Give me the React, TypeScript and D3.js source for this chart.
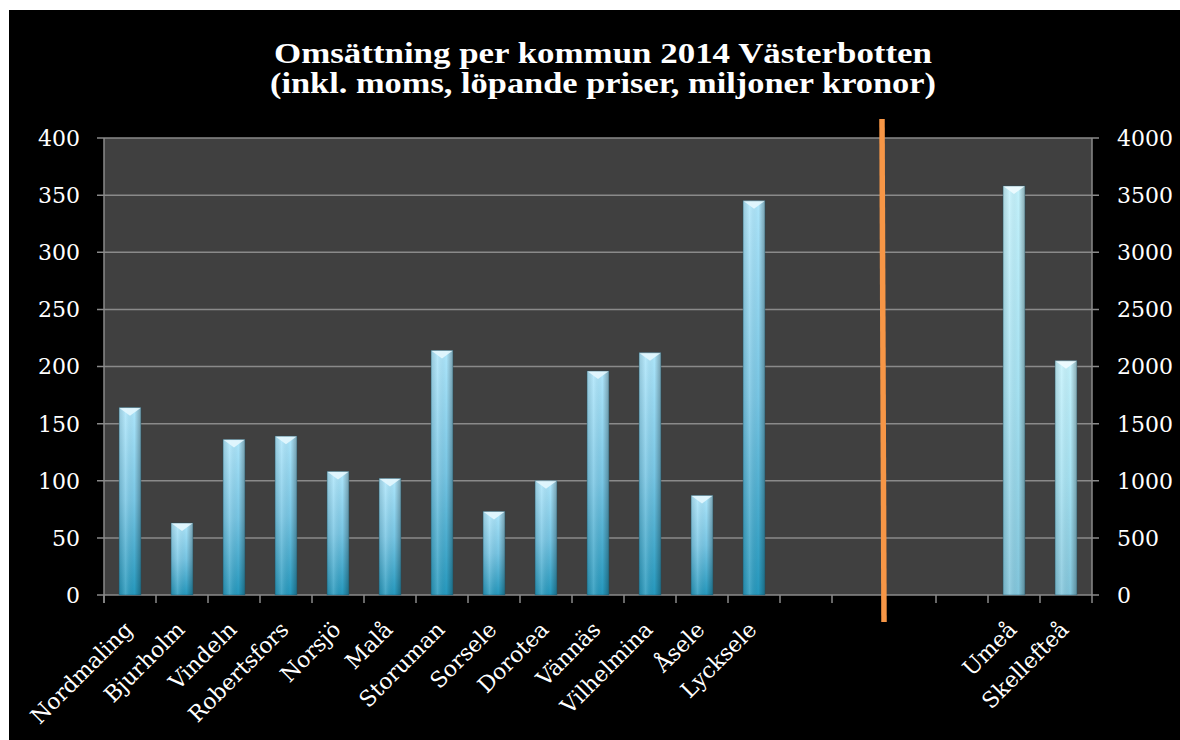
import React from 'react';
import * as d3 from 'd3';

const titleLines = [
  'Omsättning per kommun 2014 Västerbotten',
  '(inkl. moms, löpande priser, miljoner kronor)',
];
const titleWidths = [658, 666];

// 19 slots on the x axis, empty strings are the gap around the divider
const categories = [
  'Nordmaling', 'Bjurholm', 'Vindeln', 'Robertsfors', 'Norsjö', 'Malå',
  'Storuman', 'Sorsele', 'Dorotea', 'Vännäs', 'Vilhelmina', 'Åsele',
  'Lycksele', '', '', '', '', 'Umeå', 'Skellefteå',
];

const smallNames = [
  'Nordmaling', 'Bjurholm', 'Vindeln', 'Robertsfors', 'Norsjö', 'Malå',
  'Storuman', 'Sorsele', 'Dorotea', 'Vännäs', 'Vilhelmina', 'Åsele', 'Lycksele',
];
const smallValues = [164, 63, 136, 139, 108, 102, 214, 73, 100, 196, 212, 87, 345];

const bigNames = ['Umeå', 'Skellefteå'];
const bigValues = [3580, 2050];

const leftTicks = [0, 50, 100, 150, 200, 250, 300, 350, 400];
const rightTicks = [0, 500, 1000, 1500, 2000, 2500, 3000, 3500, 4000];

// divider drawn between the two groups (slot boundary index)
const dividerSlot = 15;

const W = 1180;
const H = 740;
const margin = { left: 104, right: 1092, top: 138, bottom: 595 };

const font = '"DejaVu Serif", "Liberation Serif", serif';

export default function App() {
  const keys = categories.map((c, i) => `${i}:${c}`);
  const x = d3.scaleBand<string>().domain(keys).range([margin.left, margin.right]).padding(0);
  const yL = d3.scaleLinear().domain([0, 400]).range([margin.bottom, margin.top]);
  const yR = d3.scaleLinear().domain([0, 4000]).range([margin.bottom, margin.top]);
  const step = x.step();
  const barW = step * 0.42;
  const keyOf = (name: string) => keys[categories.indexOf(name)];

  const bar = (name: string, top: number, grad: string, cap: string, k: string) => {
    const cx = (x(keyOf(name)) as number) + step / 2;
    const x0 = cx - barW / 2;
    const h = margin.bottom - top;
    const bevel = Math.min(8, h / 2);
    return (
      <g key={k}>
        <rect x={x0} y={top} width={barW} height={h} fill={`url(#${grad})`} />
        <rect x={x0} y={top} width={barW} height={h} fill="url(#shade)" />
        <polygon
          points={`${x0},${top} ${x0 + barW},${top} ${cx},${top + bevel}`}
          fill={cap}
          opacity={0.9}
        />
        <rect x={x0} y={top} width={barW} height={h} fill="none" stroke="#1d5468" strokeOpacity={0.5} strokeWidth={0.8} />
      </g>
    );
  };

  const lx = x(keys[dividerSlot]) as number;

  return (
    <svg
      width={W}
      height={H}
      style={{ position: 'absolute', left: 0, top: 0, display: 'block' }}
      fontFamily={font}
    >
      <defs>
        <linearGradient id="blue" x1="0" y1="0" x2="0" y2="1">
          <stop offset="0" stopColor="#aee6fb" />
          <stop offset="0.5" stopColor="#78c6e4" />
          <stop offset="1" stopColor="#2598bd" />
        </linearGradient>
        <linearGradient id="cyan" x1="0" y1="0" x2="0" y2="1">
          <stop offset="0" stopColor="#c4f2fc" />
          <stop offset="0.5" stopColor="#a6e2f2" />
          <stop offset="1" stopColor="#82c6dc" />
        </linearGradient>
        <linearGradient id="shade" x1="0" y1="0" x2="1" y2="0">
          <stop offset="0" stopColor="#000" stopOpacity="0.12" />
          <stop offset="0.3" stopColor="#fff" stopOpacity="0.15" />
          <stop offset="0.7" stopColor="#000" stopOpacity="0" />
          <stop offset="1" stopColor="#000" stopOpacity="0.3" />
        </linearGradient>
      </defs>
      <rect x={0} y={0} width={W} height={H} fill="#fff" />
      <rect x={9} y={10} width={W - 9} height={H - 10} fill="#000" />

      {titleLines.map((t, i) => (
        <text
          key={t}
          x={603}
          y={63 + i * 30}
          textAnchor="middle"
          fill="#fff"
          fontWeight="bold"
          fontSize={30}
          textLength={titleWidths[i]}
          lengthAdjust="spacingAndGlyphs"
          fontFamily='"Liberation Serif", serif'
        >
          {t}
        </text>
      ))}

      <rect
        x={margin.left}
        y={margin.top}
        width={margin.right - margin.left}
        height={margin.bottom - margin.top}
        fill="#404040"
      />
      {leftTicks.map(t => (
        <line key={`g${t}`} x1={margin.left - 7} x2={margin.right + 7} y1={yL(t)} y2={yL(t)} stroke="#8a8a8a" strokeWidth={1.5} />
      ))}
      <line x1={margin.left} x2={margin.left} y1={margin.top} y2={margin.bottom + 8} stroke="#8a8a8a" strokeWidth={1.5} />
      <line x1={margin.right} x2={margin.right} y1={margin.top} y2={margin.bottom + 8} stroke="#8a8a8a" strokeWidth={1.5} />
      {keys.map((k, i) => (
        <line key={`t${i}`} x1={x(k) as number} x2={x(k) as number} y1={margin.bottom} y2={margin.bottom + 8} stroke="#8a8a8a" strokeWidth={1.5} />
      ))}

      {smallNames.map((n, i) => bar(n, yL(smallValues[i]), 'blue', '#e4f7fe', `s${i}`))}
      {bigNames.map((n, i) => bar(n, yR(bigValues[i]), 'cyan', '#f0fcff', `b${i}`))}

      <line x1={lx - 2} x2={lx} y1={119} y2={622} stroke="#f79646" strokeWidth={5.5} />

      {leftTicks.map(t => (
        <text key={`l${t}`} x={80} y={yL(t)} dy="0.36em" textAnchor="end" fill="#fff" fontSize={22}>
          {t}
        </text>
      ))}
      {rightTicks.map(t => (
        <text key={`r${t}`} x={1117} y={yR(t)} dy="0.36em" textAnchor="start" fill="#fff" fontSize={22}>
          {t}
        </text>
      ))}

      {keys.map((k, i) =>
        categories[i] ? (
          <text
            key={`c${i}`}
            transform={`translate(${(x(k) as number) + step / 2 + 4},${margin.bottom + 36}) rotate(-45)`}
            textAnchor="end"
            fill="#fff"
            fontSize={22}
          >
            {categories[i]}
          </text>
        ) : null
      )}
    </svg>
  );
}
